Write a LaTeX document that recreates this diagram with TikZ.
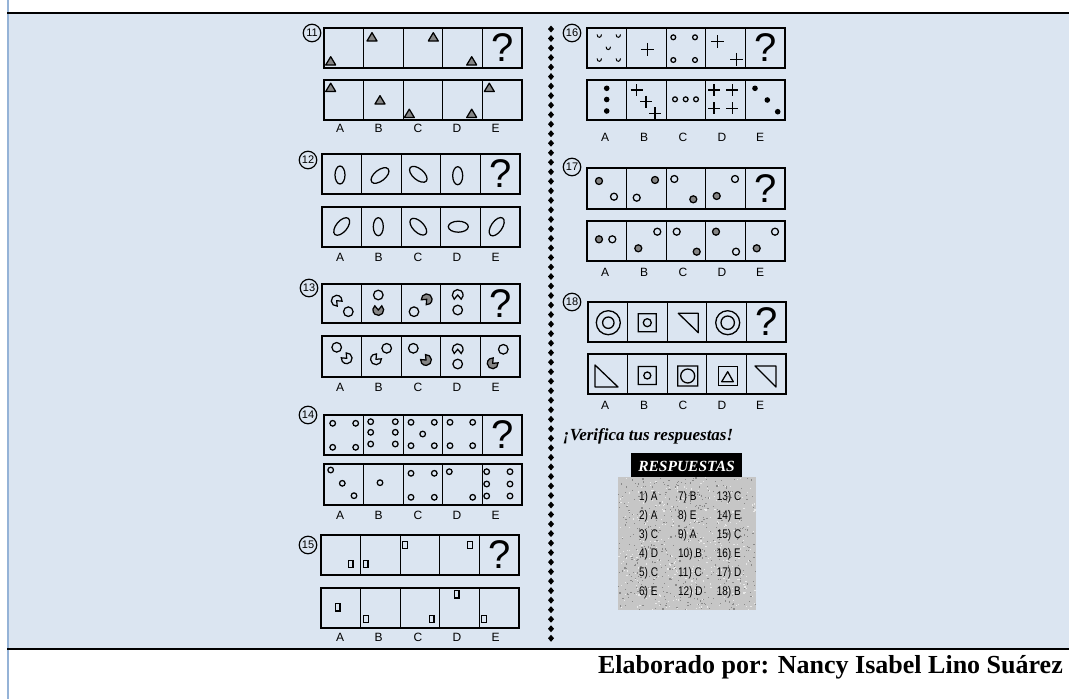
\documentclass[tikz,border=0pt]{standalone}
\usepackage{fontspec}
\setmainfont{Liberation Serif}
\setsansfont{Liberation Sans}
\definecolor{bgblue}{HTML}{DBE5F1}
\definecolor{lineblue}{HTML}{95B3D7}
\definecolor{shade}{HTML}{858585}
\definecolor{ansgray}{HTML}{C6C6C6}
\definecolor{speckdark}{HTML}{8A8A8A}
\definecolor{specklight}{HTML}{E8E8E8}
\tikzset{
  box/.style={draw=black,line width=1.6pt},
  div/.style={draw=black,line width=1.3pt},
  fig/.style={draw=black,line width=1.25pt},
  thin fig/.style={draw=black,line width=1pt},
  qnum/.style={circle,draw=black,line width=1.2pt,minimum size=17.5pt,inner sep=0pt,font=\sffamily\fontsize{11}{11}\selectfont},
  lab/.style={font=\sffamily\fontsize{12}{12}\selectfont,inner sep=0pt},
  qmark/.style={font=\sffamily\fontsize{40}{40}\selectfont,inner sep=0pt},
  anstext/.style={font=\sffamily\fontsize{12.5}{12.5}\selectfont,inner sep=0pt,anchor=west,xscale=0.8,text=black},
}
% strip of five cells: x0, ytop, ybot
\newcommand\mkStrip[3]{%
  \draw[box] (#1,#2) rectangle ({#1+198},#3);
  \foreach \k in {1,2,3,4}{\draw[div] ({#1+39.6*\k},#2) -- ({#1+39.6*\k},#3);}
}
\newcommand\mkQ[4]{\node[qmark] (#1) at ({#2+178.2},{(#3+#4)/2}) {?};}
\newcommand\mkNum[3]{\node[qnum] (n#1) at (#2,#3) {#1};}
\newcommand\mkLabL[2]{\foreach \t/\xx in {A/340,B/378.5,C/418,D/457,E/495.5}{\node[lab] (#1\t) at (\xx,#2) {\t};}}
\newcommand\mkLabR[2]{\foreach \t/\xx in {A/605,B/644,C/683,D/722,E/760}{\node[lab] (#1\t) at (\xx,#2) {\t};}}
\newcommand\mkTri[2]{\draw[fig,fill=shade,line join=round] ({#1-5},{#2+4}) -- ({#1+5},{#2+4}) -- (#1,{#2-4.3}) -- cycle;}
\newcommand\mkEll[5]{\draw[fig,rotate around={#3:(#1,#2)}] (#1,#2) ellipse [x radius=#4, y radius=#5];}
\newcommand\mkCirc[3]{\draw[fig] (#1,#2) circle (#3);}
\newcommand\mkGCirc[3]{\draw[fig,fill=shade] (#1,#2) circle (#3);}
\newcommand\mkPac[4]{\draw[fig,fill=#4] (#1,#2) -- ++({-(#3)+40}:5.4) arc[start angle={-(#3)+40}, end angle={-(#3)+320}, radius=5.4] -- cycle;}
\newcommand\mkRect[4]{\draw[fig] ({#1-#3},{#2-#4}) rectangle ({#1+#3},{#2+#4});}
\newcommand\mkCup[2]{\draw[thin fig] ({#1-2.2},{#2-1.6}) .. controls ({#1-2.2},{#2+2.3}) and ({#1+2.2},{#2+2.3}) .. ({#1+2.2},{#2-1.6});}
\newcommand\mkPlus[3]{\draw[draw=black,line width=1.2pt] ({#1-#3},#2) -- ({#1+#3},#2) (#1,{#2-#3}) -- (#1,{#2+#3});}
\newcommand\mkDot[2]{\fill[black] (#1,#2) circle (2.8);}
\begin{document}
\begin{tikzpicture}[x=1pt,y=-1pt]
\useasboundingbox (0,0) rectangle (1069,699);
\fill[white] (0,0) rectangle (1069,699);
\fill[bgblue] (8.7,14) rectangle (1069,648);
\draw[lineblue,line width=1.7pt] (7.85,0) -- (7.85,699);
\draw[black,line width=1.8pt] (7,13.2) -- (1069,13.2);
\draw[black,line width=2pt] (7,649) -- (1069,649);

% dotted divider of diamonds
\foreach \i in {0,...,64}{\fill[black] (551,{29+9.52*\i-3.5}) -- (554,{29+9.52*\i}) -- (551,{29+9.52*\i+3.5}) -- (548,{29+9.52*\i}) -- cycle;}

% ---------- 11 ----------
\mkNum{11}{312}{33}
\mkStrip{324}{28}{68}
\mkStrip{324}{80}{120}
\mkQ{q11}{324}{28}{68}
\mkTri{330.7}{61}\mkTri{372}{37}\mkTri{433.3}{37}\mkTri{471.7}{61}
\mkTri{330.7}{87.5}\mkTri{380}{100}\mkTri{409.3}{113.5}\mkTri{471.7}{113.5}\mkTri{489.3}{87.5}
\mkLabL{l11}{128}

% ---------- 12 ----------
\mkNum{12}{308}{160}
\mkStrip{322}{154}{194}
\mkStrip{322}{207}{247}
\mkQ{q12}{322}{154}{194}
\mkEll{340}{175}{0}{5}{9}
\mkEll{380}{175.5}{38}{10.5}{5.5}
\mkEll{418.3}{174.3}{-40}{10.5}{5.5}
\mkEll{457.7}{175.7}{0}{5}{9}
\mkEll{341.7}{226.5}{50}{10.5}{5.5}
\mkEll{378.3}{226.7}{0}{5}{9}
\mkEll{418.3}{226.7}{-45}{10.5}{5.5}
\mkEll{458.3}{226.7}{0}{10}{5.5}
\mkEll{496.7}{226.7}{55}{10.5}{5.5}
\mkLabL{l12}{257}

% ---------- 13 ----------
\mkNum{13}{309}{288}
\mkStrip{322}{284}{323}
\mkStrip{322}{336}{377}
\mkQ{q13}{322}{284}{323}
\mkPac{336.7}{300.7}{-45}{none}\mkCirc{348.3}{311.7}{4.8}
\mkCirc{378.3}{295}{4.8}\mkPac{378.3}{310}{90}{shade}
\mkCirc{414}{311.7}{4.8}\mkPac{426.7}{299.3}{225}{shade}
\mkPac{457.7}{295}{270}{none}\mkCirc{457.7}{310}{4.8}
\mkCirc{336.7}{347.3}{4.8}\mkPac{346.7}{358.3}{135}{none}
\mkCirc{386.7}{348.3}{4.8}\mkPac{376}{359.3}{45}{none}
\mkCirc{413.3}{348.3}{4.8}\mkPac{426}{360}{135}{shade}
\mkPac{457.7}{349.3}{270}{none}\mkCirc{457.7}{364}{4.8}
\mkCirc{503.3}{349.3}{4.8}\mkPac{492.7}{363.3}{45}{shade}
\mkLabL{l13}{387}

% ---------- 14 ----------
\mkNum{14}{308}{415}
\mkStrip{324}{415}{455}
\mkStrip{324}{464}{505}
\mkQ{q14}{324}{415}{455}
\foreach \p in {{332.7,423.3},{355.7,423.3},{332.7,447.3},{355.7,447.3},
  {370.7,421.7},{395.3,421.7},{370.7,432.3},{395.3,432.3},{370.7,444},{395.3,444},
  {411,422.3},{434.3,422.3},{411,445.7},{434.3,445.7},{422.7,434},
  {450,422.3},{472.7,422.3},{450,445.7},{472.7,445.7},
  {330.7,470},{342.3,483.3},{354,495.7},
  {380,482.7},
  {411,473.3},{434.3,473.3},{411,497.3},{434.3,497.3},
  {449.3,471.7},{472.7,497.3},
  {486.7,471.7},{510,471.7},{486.7,484},{510,484},{486.7,496},{510,496}}
  {\draw[fig] (\p) circle (2.8);}
\mkLabL{l14}{515}

% ---------- 15 ----------
\mkNum{15}{308}{545}
\mkStrip{321}{535}{575}
\mkStrip{321}{588}{628}
\mkQ{q15}{321}{535}{575}
\mkRect{350.7}{564}{2.2}{3.5}\mkRect{365.7}{564}{2.2}{3.5}\mkRect{405}{545}{2.2}{3.5}\mkRect{470}{545}{2.2}{3.5}
\mkRect{337.7}{607.3}{2.3}{3.8}\mkRect{366}{619}{2.3}{3.8}\mkRect{431.7}{619}{2.3}{3.8}\mkRect{456.7}{594.3}{2.3}{3.8}\mkRect{484}{619}{2.3}{3.8}
\mkLabL{l15}{637}

% ---------- 16 ----------
\mkNum{16}{572}{33}
\mkStrip{587}{28}{68}
\mkStrip{587}{80}{120}
\mkQ{q16}{587}{28}{68}
\mkCup{599.3}{36}\mkCup{618.3}{36}\mkCup{608.3}{48.3}\mkCup{599.3}{60}\mkCup{618.3}{60}
\mkPlus{647.3}{49.3}{6.5}
\mkCirc{673.3}{37.3}{2.4}\mkCirc{695}{37.3}{2.4}\mkCirc{673.3}{60}{2.4}\mkCirc{695}{60}{2.4}
\mkPlus{717.3}{41.7}{6.5}\mkPlus{736.7}{59.3}{6.5}
\mkDot{606.7}{88.3}\mkDot{606.7}{99.5}\mkDot{606.7}{111}
\mkPlus{636.7}{90}{6}\mkPlus{646}{101.7}{6}\mkPlus{655}{113.3}{6}
\mkCirc{675}{99.3}{2.4}\mkCirc{685.7}{99.3}{2.4}\mkCirc{696}{99.3}{2.4}
\mkPlus{714}{90}{6}\mkPlus{732.3}{90}{6}\mkPlus{714}{108.3}{6}\mkPlus{732.3}{108.3}{6}
\mkDot{755}{88.3}\mkDot{767.3}{100}\mkDot{777.7}{111.7}
\mkLabR{l16}{137}

% ---------- 17 ----------
\mkNum{17}{572}{167}
\mkStrip{587}{168}{209}
\mkStrip{587}{221}{261}
\mkQ{q17}{587}{168}{209}
\mkGCirc{599}{181}{3.5}\mkCirc{614}{196.7}{3.5}
\mkGCirc{655}{180}{3.5}\mkCirc{636.7}{197.7}{3.5}
\mkCirc{674.3}{179}{3.5}\mkGCirc{693.3}{199.3}{3.5}
\mkCirc{735}{179}{3.5}\mkGCirc{716.7}{196}{3.5}
\mkGCirc{599}{239.3}{3.5}\mkCirc{612.3}{239.3}{3.5}
\mkCirc{657.3}{231.7}{3.5}\mkGCirc{638.3}{248.3}{3.5}
\mkCirc{676.7}{231.7}{3.5}\mkGCirc{696.7}{251.7}{3.5}
\mkGCirc{716}{231.7}{3.5}\mkCirc{736}{251.7}{3.5}
\mkCirc{775}{231.7}{3.5}\mkGCirc{756.7}{248.3}{3.5}
\mkLabR{l17}{272}

% ---------- 18 ----------
\mkNum{18}{572}{302}
\mkStrip{588}{302}{342}
\mkStrip{588}{354}{394}
\mkQ{q18}{588}{302}{342}
\begin{scope}[line width=1.3pt]
\draw (608.3,322.7) circle (12) (608.3,322.7) circle (5.7);
\draw (638.3,313.7) rectangle (656.3,331.7) (647.3,322.7) circle (4);
\draw[line join=round] (678.3,313.3) -- (698.3,313.3) -- (698.3,332.7) -- cycle;
\draw (727.7,322.7) circle (12) (727.7,322.7) circle (6.7);
\draw[line join=round] (595,365) -- (595,387) -- (618,387) -- cycle;
\draw (638.3,366.5) rectangle (656.3,384.5) (647.3,375.5) circle (3.5);
\draw (677.7,366) rectangle (697.7,386) (687.7,376) circle (7);
\draw (718.2,366.8) rectangle (737.2,385.8);
\draw[line join=round] (721.7,381.7) -- (733.3,381.7) -- (727.7,371.7) -- cycle;
\draw[line join=round] (755,366) -- (776,366) -- (776,387) -- cycle;
\end{scope}
\mkLabR{l18}{405}

% ---------- answers ----------
\node[font=\bfseries\itshape\fontsize{17}{17}\selectfont,anchor=base west,inner sep=0pt] (verif) at (563,440) {¡Verifica tus respuestas!};
\fill[black] (631,453) rectangle (742,478);
\node[font=\bfseries\itshape\fontsize{15.5}{15.5}\selectfont,text=white,inner sep=0pt] (resp) at (686.5,466) {RESPUESTAS};
\fill[ansgray] (618,477) rectangle (756,610);
\pgfmathsetseed{7}
\foreach \i in {1,...,500}{\pgfmathsetmacro\rx{618+137*rnd}\pgfmathsetmacro\ry{477+132*rnd}\fill[speckdark] (\rx,\ry) rectangle ++(1.2,1.2);}
\foreach \i in {1,...,350}{\pgfmathsetmacro\rx{618+137*rnd}\pgfmathsetmacro\ry{477+132*rnd}\fill[specklight] (\rx,\ry) rectangle ++(1.2,1.2);}
\foreach \r/\a/\b/\c in {1/{1) A}/{7) B}/{13) C},2/{2) A}/{8) E}/{14) E},3/{3) C}/{9) A}/{15) C},4/{4) D}/{10) B}/{16) E},5/{5) C}/{11) C}/{17) D},6/{6) E}/{12) D}/{18) B}}{
  \node[anstext] (ansa\r) at (639,{497.5+19*(\r-1)}) {\a};
  \node[anstext] (ansb\r) at (678,{497.5+19*(\r-1)}) {\b};
  \node[anstext] (ansc\r) at (716.7,{497.5+19*(\r-1)}) {\c};
}

% ---------- footer ----------
\node[font=\bfseries\fontsize{26}{26}\selectfont,anchor=base east,inner sep=0pt] (autor) at (1063,673) {Elaborado por: Nancy Isabel Lino Suárez};
\end{tikzpicture}
\end{document}
